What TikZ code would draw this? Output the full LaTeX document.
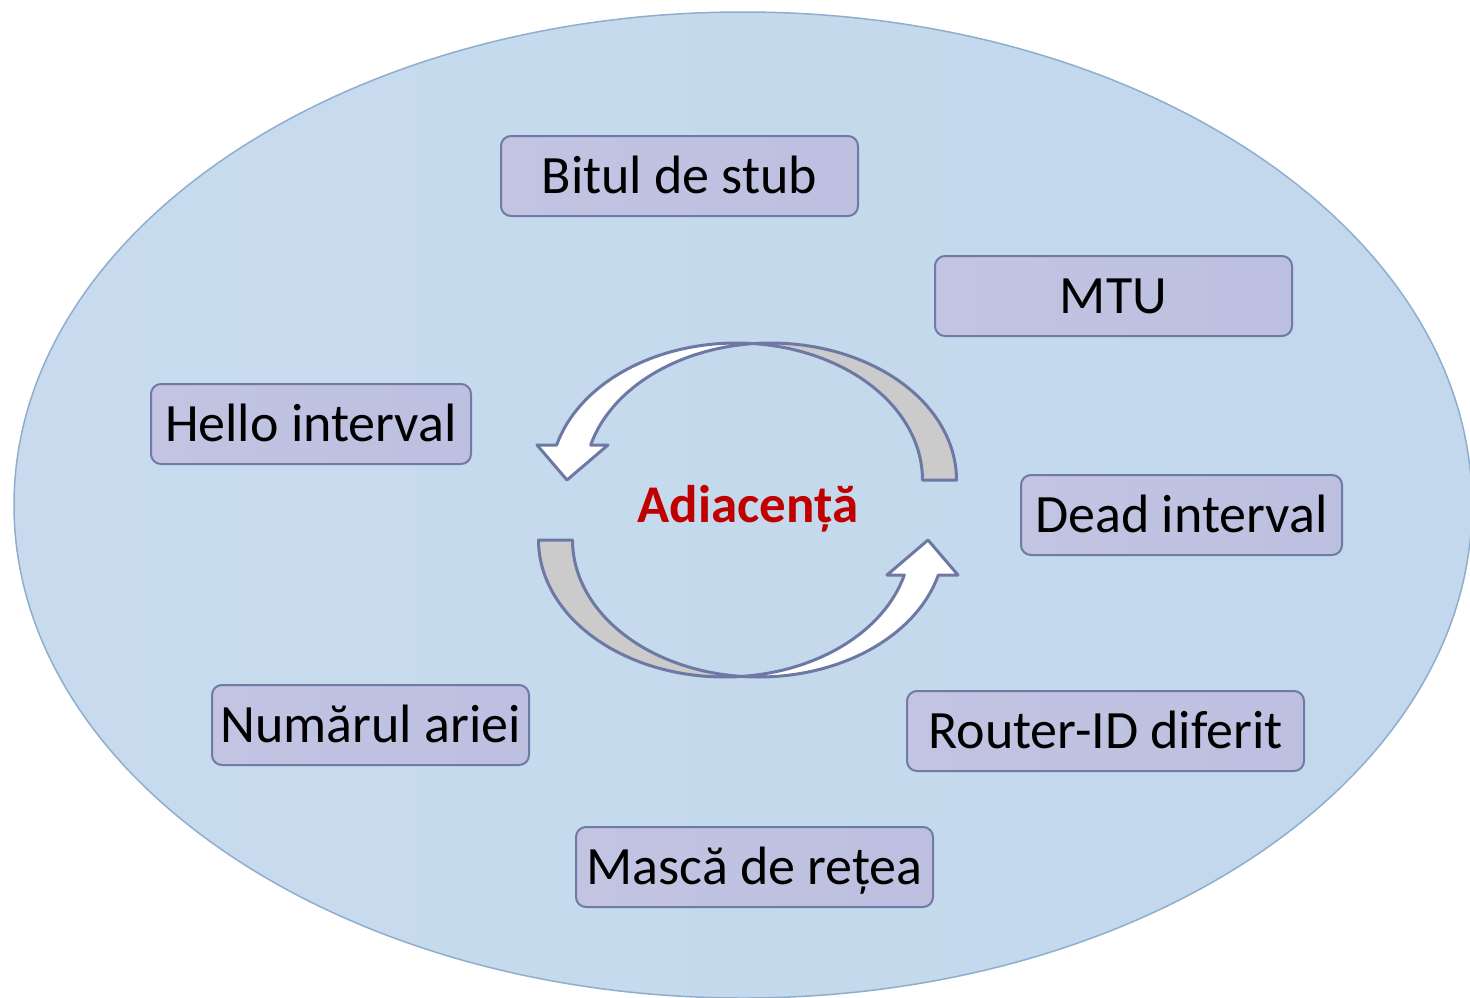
\documentclass[tikz,border=0pt]{standalone}
\usepackage{fontspec}
\setmainfont{Carlito}
\definecolor{bgl}{HTML}{C8DBEE}
\definecolor{bgm}{HTML}{B6D0E9}
\definecolor{bgline}{HTML}{8FAECD}
\definecolor{boxl}{HTML}{C2C4E2}
\definecolor{boxm}{HTML}{A6ADD5}
\definecolor{boxline}{HTML}{6F7AA5}
\definecolor{arrline}{HTML}{6E78A4}
\definecolor{arrgray}{HTML}{CBCBCB}
\definecolor{adred}{HTML}{C00000}
\tikzset{
  boxnode/.style={draw=boxline, line width=2pt, rounded corners=10pt,
    left color=boxl, middle color=boxm, right color=boxl!80!boxm,
    minimum height=80pt, inner sep=0pt,
    font=\fontsize{54}{60}\selectfont, text height=34pt, text depth=0pt},
  arrshape/.style={draw=arrline, line width=3pt, line join=round},
}
\begin{document}
\begin{tikzpicture}[x=1pt,y=-1pt]
\clip (0,0) rectangle (1470,997);
\fill[white] (0,0) rectangle (1470,997);
% background ellipse
\draw[bgline, line width=1.5pt, left color=bgl, middle color=bgm, right color=bgl!70!bgm]
  (743,505) ellipse [x radius=729pt, y radius=493pt];
% circular arrows
\begin{scope}
  \filldraw[arrshape, fill=arrgray]
    plot[domain=0:84.76, samples=50] ({736.5+186*cos(\x)},{480-137*sin(\x)})
    -- plot[domain=95.24:0, samples=50] ({770.5+186*cos(\x)},{480-137*sin(\x)}) -- cycle;
  \filldraw[arrshape, fill=white]
    plot[domain=84.76:165.2, samples=50] ({736.5+186*cos(\x)},{480-137*sin(\x)})
    -- (537,445) -- (567,480) -- (608,445)
    -- plot[domain=165.2:95.24, samples=50] ({770.5+186*cos(\x)},{480-137*sin(\x)}) -- cycle;
\end{scope}
\begin{scope}[rotate around={180:(747.5,510)}]
  \filldraw[arrshape, fill=arrgray]
    plot[domain=0:84.76, samples=50] ({736.5+186*cos(\x)},{480-137*sin(\x)})
    -- plot[domain=95.24:0, samples=50] ({770.5+186*cos(\x)},{480-137*sin(\x)}) -- cycle;
  \filldraw[arrshape, fill=white]
    plot[domain=84.76:165.2, samples=50] ({736.5+186*cos(\x)},{480-137*sin(\x)})
    -- (537,445) -- (567,480) -- (608,445)
    -- plot[domain=165.2:95.24, samples=50] ({770.5+186*cos(\x)},{480-137*sin(\x)}) -- cycle;
\end{scope}
\node[font=\bfseries\fontsize{53}{60}\selectfont, text=adred, inner sep=0pt, anchor=base] (adj) at (748,522) {Adiacență};
% boxes
\node[boxnode, minimum width=357pt] (stub) at (679.5,176) {Bitul de stub};
\node[boxnode, minimum width=357pt] (mtu) at (1113.5,296) {MTU};
\node[boxnode, minimum width=320pt] (hello) at (311,424) {Hello interval};
\node[boxnode, minimum width=321pt] (dead) at (1181.5,515) {Dead interval};
\node[boxnode, minimum width=317pt] (area) at (370.5,725) {Numărul ariei};
\node[boxnode, minimum width=397pt] (rid) at (1105.5,731) {Router-ID diferit};
\node[boxnode, minimum width=357pt] (mask) at (754.5,867) {Mască de rețea};
\end{tikzpicture}
\end{document}
